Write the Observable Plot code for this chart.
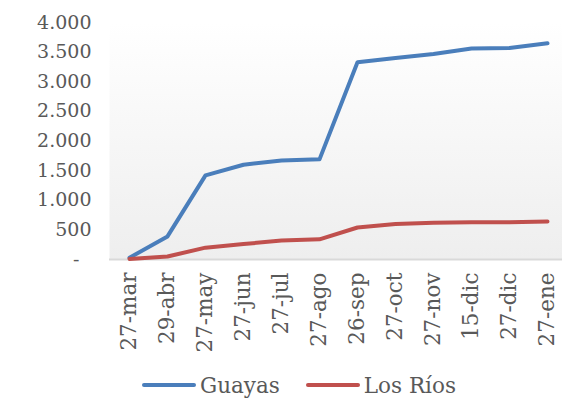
<!DOCTYPE html>
<html>
<head>
<meta charset="utf-8">
<script src="https://cdn.jsdelivr.net/npm/d3@7"></script>
<script src="https://cdn.jsdelivr.net/npm/@observablehq/plot@0.6"></script>
<style>
  html, body { margin: 0; padding: 0; background: #ffffff; }
  #chart { width: 562px; height: 407px; position: relative; font-family: "DejaVu Serif", serif; color: #595959; }
  #legend { position: absolute; left: 142px; top: 372px; height: 26px; display: flex; align-items: center; font-size: 21.5px; }
  .item { display: flex; align-items: center; }
  .swatch { width: 54px; height: 4px; border-radius: 2px; margin-right: 4px; }
</style>
</head>
<body>
<div id="chart"></div>
<script>
const dates = ["27-mar","29-abr","27-may","27-jun","27-jul","27-ago","26-sep","27-oct","27-nov","15-dic","27-dic","27-ene"];
const guayas = [30, 390, 1420, 1600, 1670, 1690, 3330, 3400, 3470, 3560, 3570, 3650];
const losRios = [10, 50, 200, 260, 320, 340, 540, 600, 620, 630, 630, 640];
const seriesNames = ["Guayas", "Los Ríos"];
const seriesColors = ["#4a7ebb", "#c0504d"];
const yTicks = [0, 500, 1000, 1500, 2000, 2500, 3000, 3500, 4000];
const yTickLabels = ["-\u00a0\u00a0", "500", "1.000", "1.500", "2.000", "2.500", "3.000", "3.500", "4.000"];

const data = [];
dates.forEach((d, i) => {
  data.push({date: d, value: guayas[i], series: seriesNames[0]});
  data.push({date: d, value: losRios[i], series: seriesNames[1]});
});

const plot = Plot.plot({
  width: 562,
  height: 365,
  marginLeft: 109,
  marginRight: -4,
  marginTop: 22,
  marginBottom: 106,
  style: {fontFamily: "DejaVu Serif, serif", fontSize: "20px", color: "#595959", background: "transparent", overflow: "hidden"},
  x: {type: "point", domain: dates, padding: 0.5, label: null},
  y: {domain: [0, 4000], label: null},
  color: {domain: seriesNames, range: seriesColors},
  marks: [
    Plot.frame({fill: "url(#bggrad)", stroke: "none"}),
    Plot.ruleY([0], {stroke: "#d9d9d9", strokeWidth: 2}),
    Plot.axisY(yTicks, {tickSize: 0, tickPadding: 18, tickFormat: (d) => yTickLabels[yTicks.indexOf(d)], fill: "#595959", fontSize: 19, label: null}),
    Plot.axisX({tickSize: 0, tickPadding: 13, tickRotate: -90, fill: "#595959", fontSize: 21.5, label: null}),
    Plot.line(data, {x: "date", y: "value", z: "series", stroke: "series", strokeWidth: 4, strokeLinecap: "round", strokeLinejoin: "round"})
  ]
});

const ns = "http://www.w3.org/2000/svg";
const defs = document.createElementNS(ns, "defs");
defs.innerHTML = '<linearGradient id="bggrad" x1="0" y1="0" x2="0" y2="1"><stop offset="0" stop-color="#ffffff"/><stop offset="1" stop-color="#eeeeee"/></linearGradient>';
plot.insertBefore(defs, plot.firstChild);

const chart = document.getElementById("chart");
chart.appendChild(plot);

const legend = document.createElement("div");
legend.id = "legend";
seriesNames.forEach((name, i) => {
  const item = document.createElement("div");
  item.className = "item";
  if (i > 0) item.style.marginLeft = "26px";
  const sw = document.createElement("div");
  sw.className = "swatch";
  sw.style.background = seriesColors[i];
  const label = document.createElement("span");
  label.textContent = name;
  item.appendChild(sw);
  item.appendChild(label);
  legend.appendChild(item);
});
chart.appendChild(legend);
</script>
</body>
</html>
